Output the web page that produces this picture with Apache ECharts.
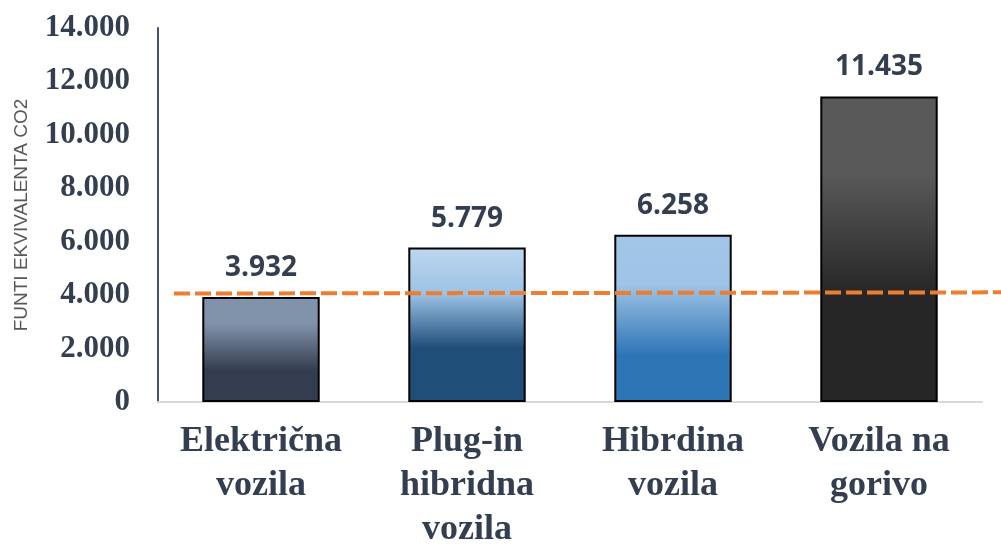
<!DOCTYPE html>
<html>
<head>
<meta charset="utf-8">
<script src="https://cdn.jsdelivr.net/npm/echarts@6/dist/echarts.min.js"></script>
<style>
  html, body { margin: 0; padding: 0; background: #fff; }
  #chart { width: 1001px; height: 544px; }
</style>
</head>
<body>
<div id="chart"></div>
<script>
// kategorije i vrijednosti
var categories = ['Električna\nvozila', 'Plug-in\nhibridna\nvozila', 'Hibrdina\nvozila', 'Vozila na\ngorivo'];
var values = [3932, 5779, 6258, 11435];
// isprekidana linija (lijevi i desni kraj)
var refLine = [4060, 4105];
var yTicks = [0, 2000, 4000, 6000, 8000, 10000, 12000, 14000];

// gradijenti stupaca (odozgo prema dolje)
var barStops = [
    [[0, '#8193ab'], [0.25, '#8193ab'], [0.7, '#333d4f'], [1, '#333d4f']],
    [[0, '#bdd7ee'], [0.3, '#9cc2e5'], [0.65, '#1f4e79'], [1, '#1f4e79']],
    [[0, '#a2c6e8'], [0.3, '#9dc3e6'], [0.72, '#2e75b6'], [1, '#2e75b6']],
    [[0, '#595959'], [0.25, '#595959'], [0.65, '#262626'], [1, '#262626']]
];

function fmt(v) {
    return String(v).replace(/\B(?=(\d{3})+(?!\d))/g, '.');
}

var chart = echarts.init(document.getElementById('chart'));

var barData = values.map(function (v, i) {
    return {
        value: v,
        itemStyle: {
            color: new echarts.graphic.LinearGradient(0, 0, 0, 1, barStops[i].map(function (s) {
                return { offset: s[0], color: s[1] };
            })),
            borderColor: '#000',
            borderWidth: 2
        }
    };
});

var option = {
    animation: false,
    grid: [
        { left: 158, right: 19, top: 28, bottom: 142, outerBoundsMode: 'none' },
        { left: 174, right: 0, top: 28, bottom: 142, outerBoundsMode: 'none' }
    ],
    xAxis: [{
        type: 'category',
        gridIndex: 0,
        data: categories,
        axisLine: { lineStyle: { color: '#d9d9d9', width: 2 } },
        axisTick: { show: false },
        axisLabel: {
            margin: 18,
            interval: 0,
            fontFamily: 'Liberation Serif',
            fontWeight: 'bold',
            fontSize: 36,
            lineHeight: 44,
            color: '#333f50'
        }
    }, {
        type: 'value',
        gridIndex: 1,
        min: 0,
        max: 1,
        show: false
    }],
    yAxis: [{
        type: 'value',
        gridIndex: 0,
        min: 0,
        max: 14000,
        interval: 2000,
        name: 'FUNTI EKVIVALENTA CO2',
        nameLocation: 'middle',
        nameGap: 127,
        nameRotate: 90,
        nameTextStyle: {
            fontFamily: 'Liberation Sans',
            fontSize: 19,
            color: '#595959'
        },
        axisLine: { show: true, lineStyle: { color: '#44546a', width: 2 } },
        axisTick: { show: false },
        splitLine: { show: false },
        axisLabel: {
            margin: 28,
            fontFamily: 'Liberation Serif',
            fontWeight: 'bold',
            fontSize: 31,
            color: '#333f50',
            formatter: function (v) { return yTicks.indexOf(v) >= 0 ? fmt(v) : ''; }
        }
    }, {
        type: 'value',
        gridIndex: 1,
        min: 0,
        max: 14000,
        show: false
    }],
    series: [{
        type: 'bar',
        xAxisIndex: 0,
        yAxisIndex: 0,
        barWidth: '57%',
        data: barData,
        label: {
            show: true,
            position: 'top',
            distance: 15,
            fontFamily: 'Open Sans',
            fontWeight: 'bold',
            fontSize: 28,
            color: '#333f50',
            formatter: function (p) { return fmt(p.value); }
        }
    }, {
        type: 'line',
        xAxisIndex: 1,
        yAxisIndex: 1,
        data: [[0, refLine[0]], [1, refLine[1]]],
        symbol: 'none',
        lineStyle: { color: '#ed7d31', width: 4, type: [16, 5] },
        z: 5
    }]
};

chart.setOption(option);
</script>
</body>
</html>
